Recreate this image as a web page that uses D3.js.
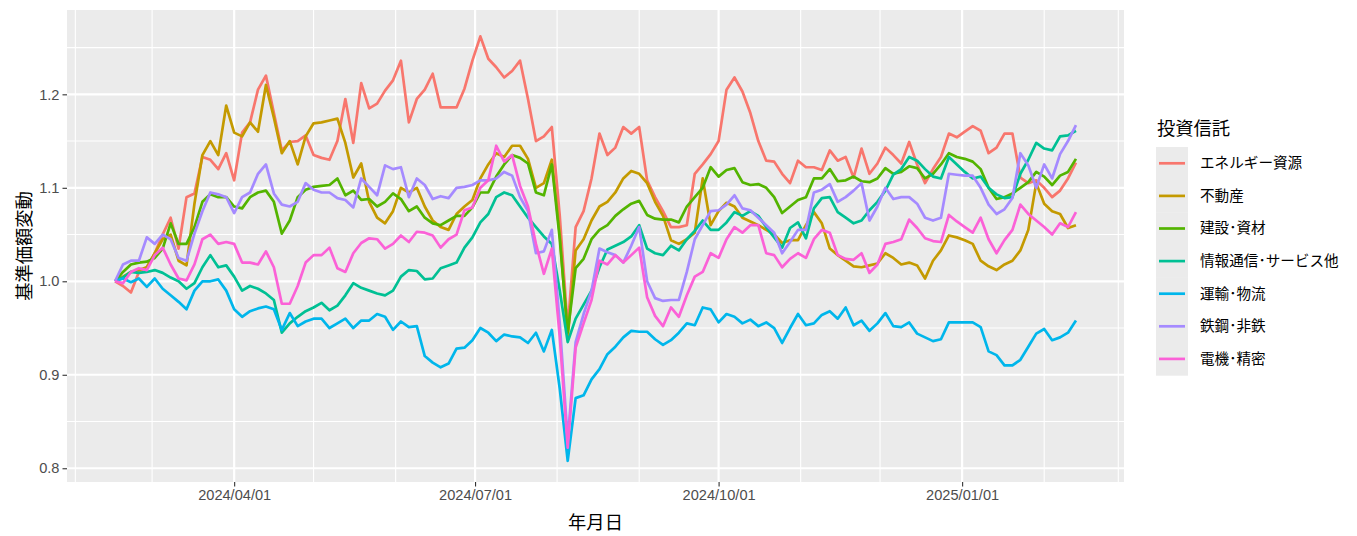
<!DOCTYPE html>
<html><head><meta charset="utf-8">
<script src="https://cdn.jsdelivr.net/npm/d3@7"></script>
<style>body{margin:0;background:#fff}svg{display:block}</style>
</head><body>
<svg id="chart" width="1357" height="536"></svg>
<script>
// ---------- data ----------
const dates = ["2024-02-16","2024-02-19","2024-02-22","2024-02-25","2024-02-28","2024-03-02","2024-03-05","2024-03-08","2024-03-11","2024-03-14",
"2024-03-17","2024-03-20","2024-03-23","2024-03-26","2024-03-29","2024-04-01","2024-04-04","2024-04-07","2024-04-10","2024-04-13",
"2024-04-16","2024-04-19","2024-04-22","2024-04-25","2024-04-28","2024-05-01","2024-05-04","2024-05-07","2024-05-10","2024-05-13",
"2024-05-16","2024-05-19","2024-05-22","2024-05-25","2024-05-28","2024-05-31","2024-06-03","2024-06-06","2024-06-09","2024-06-12",
"2024-06-15","2024-06-18","2024-06-21","2024-06-24","2024-06-27","2024-06-30","2024-07-03","2024-07-06","2024-07-09","2024-07-12",
"2024-07-15","2024-07-18","2024-07-21","2024-07-24","2024-07-27","2024-07-30","2024-08-02","2024-08-05","2024-08-08","2024-08-11",
"2024-08-14","2024-08-17","2024-08-20","2024-08-23","2024-08-26","2024-08-29","2024-09-01","2024-09-04","2024-09-07","2024-09-10",
"2024-09-13","2024-09-16","2024-09-19","2024-09-22","2024-09-25","2024-09-28","2024-10-01","2024-10-04","2024-10-07","2024-10-10",
"2024-10-13","2024-10-16","2024-10-19","2024-10-22","2024-10-25","2024-10-28","2024-10-31","2024-11-03","2024-11-06","2024-11-09",
"2024-11-12","2024-11-15","2024-11-18","2024-11-21","2024-11-24","2024-11-27","2024-11-30","2024-12-03","2024-12-06","2024-12-09",
"2024-12-12","2024-12-15","2024-12-18","2024-12-21","2024-12-24","2024-12-27","2024-12-30","2025-01-02","2025-01-05","2025-01-08",
"2025-01-11","2025-01-14","2025-01-17","2025-01-20","2025-01-23","2025-01-26","2025-01-29","2025-02-01","2025-02-04","2025-02-07",
"2025-02-10","2025-02-13"];

const seriesNames = ["エネルギー資源","不動産","建設･資材","情報通信･サービス他","運輸･物流","鉄鋼･非鉄","電機･精密"];
const seriesColors = ["#F8766D","#C49A00","#53B400","#00C094","#00B6EB","#A58AFF","#FB61D7"];

const energy = [1.000,0.995,0.988,1.010,1.015,1.030,1.050,1.068,1.035,1.090,
1.094,1.133,1.130,1.120,1.137,1.108,1.159,1.170,1.205,1.220,
1.180,1.140,1.149,1.150,1.156,1.135,1.132,1.130,1.150,1.195,
1.148,1.212,1.185,1.190,1.204,1.215,1.236,1.170,1.195,1.205,
1.222,1.186,1.186,1.186,1.206,1.236,1.262,1.238,1.229,1.218,
1.225,1.236,1.195,1.150,1.155,1.165,1.070,0.950,1.058,1.075,
1.110,1.158,1.135,1.143,1.165,1.158,1.165,1.108,1.090,1.075,
1.058,1.058,1.060,1.115,1.125,1.136,1.150,1.205,1.218,1.203,
1.180,1.150,1.129,1.128,1.115,1.105,1.129,1.122,1.122,1.119,
1.140,1.129,1.133,1.111,1.142,1.115,1.126,1.143,1.135,1.126,
1.149,1.125,1.105,1.120,1.133,1.158,1.154,1.160,1.166,1.161,
1.137,1.143,1.158,1.158,1.111,1.105,1.108,1.100,1.090,1.097,
1.110,1.127];

const realEstate = [1.000,1.005,1.010,1.012,1.015,1.030,1.045,1.050,1.022,1.017,
1.083,1.135,1.150,1.135,1.188,1.159,1.155,1.170,1.160,1.210,
1.175,1.137,1.150,1.125,1.155,1.169,1.170,1.172,1.174,1.148,
1.111,1.126,1.085,1.068,1.062,1.075,1.100,1.095,1.100,1.080,
1.065,1.058,1.055,1.072,1.080,1.087,1.110,1.125,1.137,1.133,
1.145,1.145,1.131,1.100,1.105,1.130,1.050,0.940,1.033,1.045,
1.065,1.080,1.085,1.095,1.110,1.118,1.115,1.105,1.085,1.070,
1.044,1.040,1.045,1.052,1.110,1.060,1.075,1.084,1.080,1.068,
1.064,1.060,1.055,1.050,1.041,1.044,1.044,1.060,1.074,1.062,
1.035,1.028,1.022,1.016,1.015,1.017,1.019,1.030,1.025,1.018,
1.020,1.017,1.003,1.022,1.033,1.049,1.047,1.044,1.040,1.022,
1.016,1.012,1.018,1.022,1.033,1.055,1.105,1.083,1.075,1.072,
1.057,1.060];

const construction = [1.000,1.010,1.018,1.020,1.021,1.025,1.035,1.062,1.040,1.040,
1.058,1.085,1.093,1.090,1.090,1.080,1.078,1.090,1.095,1.097,
1.085,1.051,1.065,1.090,1.098,1.101,1.102,1.103,1.110,1.092,
1.097,1.087,1.088,1.080,1.085,1.094,1.088,1.075,1.080,1.068,
1.062,1.060,1.065,1.070,1.070,1.079,1.095,1.095,1.112,1.125,
1.135,1.132,1.126,1.095,1.092,1.125,1.045,0.945,1.014,1.024,
1.045,1.055,1.060,1.070,1.077,1.083,1.086,1.071,1.067,1.066,
1.066,1.063,1.080,1.090,1.100,1.122,1.112,1.119,1.121,1.106,
1.103,1.104,1.100,1.090,1.073,1.080,1.087,1.090,1.110,1.110,
1.120,1.107,1.108,1.112,1.107,1.106,1.110,1.121,1.115,1.117,
1.123,1.121,1.110,1.115,1.125,1.137,1.133,1.131,1.128,1.120,
1.100,1.088,1.090,1.094,1.100,1.106,1.117,1.112,1.103,1.113,
1.117,1.131];

const infoComm = [1.000,1.004,1.010,1.009,1.010,1.012,1.009,1.004,1.000,0.992,
0.998,1.015,1.028,1.015,1.017,1.005,0.990,0.995,0.992,0.987,
0.980,0.945,0.955,0.962,0.968,0.972,0.977,0.969,0.974,0.985,
0.998,0.993,0.990,0.987,0.985,0.990,1.005,1.012,1.011,1.002,
1.003,1.014,1.017,1.020,1.036,1.047,1.063,1.072,1.090,1.095,
1.092,1.080,1.068,1.058,1.048,1.040,0.990,0.935,0.960,0.975,
0.990,1.015,1.034,1.038,1.042,1.048,1.060,1.035,1.030,1.028,
1.038,1.033,1.045,1.054,1.065,1.055,1.055,1.063,1.074,1.070,
1.075,1.070,1.058,1.047,1.036,1.057,1.063,1.046,1.078,1.089,
1.090,1.074,1.068,1.062,1.065,1.076,1.085,1.097,1.114,1.120,
1.133,1.129,1.120,1.112,1.110,1.133,1.125,1.117,1.110,1.112,
1.100,1.093,1.089,1.090,1.115,1.130,1.148,1.142,1.140,1.155,
1.156,1.161];

const transport = [1.000,1.003,0.999,1.003,0.994,1.003,0.992,0.985,0.978,0.970,
0.990,1.000,1.000,1.002,0.990,0.970,0.962,0.968,0.971,0.973,
0.970,0.948,0.966,0.952,0.957,0.960,0.960,0.950,0.955,0.960,
0.950,0.958,0.958,0.965,0.962,0.948,0.957,0.951,0.952,0.920,
0.913,0.908,0.912,0.928,0.929,0.937,0.950,0.945,0.936,0.943,
0.941,0.940,0.934,0.945,0.925,0.948,0.885,0.808,0.875,0.878,
0.895,0.906,0.922,0.930,0.940,0.947,0.946,0.946,0.938,0.932,
0.937,0.945,0.955,0.953,0.972,0.970,0.956,0.965,0.962,0.955,
0.959,0.952,0.956,0.950,0.934,0.950,0.965,0.953,0.955,0.964,
0.968,0.960,0.972,0.953,0.958,0.947,0.955,0.966,0.952,0.951,
0.956,0.944,0.940,0.936,0.938,0.956,0.956,0.956,0.956,0.951,
0.925,0.921,0.910,0.910,0.916,0.930,0.944,0.949,0.937,0.940,
0.945,0.958];

const steel = [1.000,1.018,1.022,1.022,1.047,1.040,1.050,1.045,1.025,1.022,
1.051,1.075,1.095,1.093,1.090,1.073,1.090,1.095,1.115,1.125,
1.094,1.082,1.080,1.085,1.105,1.098,1.095,1.095,1.089,1.087,
1.079,1.110,1.101,1.092,1.124,1.120,1.122,1.090,1.110,1.103,
1.088,1.091,1.089,1.100,1.101,1.103,1.108,1.108,1.110,1.117,
1.113,1.090,1.075,1.030,1.032,1.055,0.955,0.830,0.935,0.965,
0.990,1.035,1.031,1.028,1.020,1.038,1.058,1.000,0.982,0.979,
0.980,0.980,1.010,1.045,1.060,1.075,1.076,1.082,1.092,1.078,
1.076,1.068,1.060,1.052,1.030,1.042,1.055,1.055,1.095,1.098,
1.104,1.085,1.090,1.097,1.105,1.065,1.080,1.100,1.088,1.090,
1.090,1.083,1.068,1.065,1.068,1.115,1.114,1.113,1.113,1.100,
1.082,1.072,1.077,1.089,1.137,1.124,1.100,1.125,1.110,1.136,
1.150,1.167];

const electric = [1.000,0.998,1.010,1.014,1.012,1.028,1.036,1.018,1.003,1.001,
1.018,1.045,1.050,1.040,1.042,1.040,1.020,1.020,1.018,1.032,
1.015,0.976,0.976,0.995,1.020,1.028,1.028,1.036,1.014,1.010,
1.030,1.041,1.046,1.045,1.035,1.040,1.049,1.042,1.053,1.052,
1.049,1.036,1.045,1.050,1.076,1.079,1.100,1.108,1.145,1.128,
1.135,1.102,1.080,1.040,1.008,1.035,0.940,0.822,0.929,0.955,
0.980,1.022,1.018,1.028,1.020,1.028,1.036,0.983,0.963,0.952,
0.972,0.962,0.985,1.005,1.010,1.030,1.025,1.045,1.058,1.052,
1.060,1.060,1.030,1.028,1.015,1.024,1.030,1.025,1.045,1.055,
1.052,1.028,1.024,1.023,1.030,1.009,1.018,1.040,1.042,1.045,
1.066,1.057,1.046,1.043,1.042,1.071,1.064,1.058,1.052,1.068,
1.045,1.030,1.044,1.055,1.082,1.072,1.065,1.058,1.050,1.062,
1.058,1.074];

const seriesValues = [energy, realEstate, construction, infoComm, transport, steel, electric];

const yTicks = [0.8, 0.9, 1.0, 1.1, 1.2];
const yTickLabels = ["0.8", "0.9", "1.0", "1.1", "1.2"];
const yMinorTicks = [0.85, 0.95, 1.05, 1.15, 1.25];
const xTicks = ["2024-04-01", "2024-07-01", "2024-10-01", "2025-01-01"];
const xTickLabels = ["2024/04/01", "2024/07/01", "2024/10/01", "2025/01/01"];
const xMinorTicks = ["2024-02-01","2024-03-01","2024-05-01","2024-06-01","2024-08-01","2024-09-01","2024-11-01","2024-12-01","2025-02-01","2025-03-01"];
const yLimits = [0.7853, 1.2902];

const xTitle = "年月日";
const yTitle = "基準価額変動";
const legendTitle = "投資信託";

// ---------- layout ----------
const P = {left: 67, right: 1124, top: 10, bottom: 482};
const FONT = "'Liberation Sans', 'Noto Sans CJK JP', sans-serif";
const parse = d3.utcParse("%Y-%m-%d");
const D = dates.map(parse);
const span = D[D.length - 1] - D[0];

const x = d3.scaleUtc()
  .domain([new Date(+D[0] - 0.05 * span), new Date(+D[D.length - 1] + 0.05 * span)])
  .range([P.left, P.right]);
const y = d3.scaleLinear().domain(yLimits).range([P.bottom, P.top]);

const svg = d3.select("#chart").style("font-family", FONT);

svg.append("rect").attr("x", P.left).attr("y", P.top)
  .attr("width", P.right - P.left).attr("height", P.bottom - P.top).attr("fill", "#EBEBEB");

const grid = svg.append("g");
// minor grid
grid.selectAll(".hmin").data(yMinorTicks).join("line")
  .attr("x1", P.left).attr("x2", P.right).attr("y1", d => y(d)).attr("y2", d => y(d))
  .attr("stroke", "#fff").attr("stroke-width", 1.1);
grid.selectAll(".vmin").data(xMinorTicks.map(parse)).join("line")
  .attr("y1", P.top).attr("y2", P.bottom).attr("x1", d => x(d)).attr("x2", d => x(d))
  .attr("stroke", "#fff").attr("stroke-width", 1.1);
// major grid
grid.selectAll(".hmaj").data(yTicks).join("line")
  .attr("x1", P.left).attr("x2", P.right).attr("y1", d => y(d)).attr("y2", d => y(d))
  .attr("stroke", "#fff").attr("stroke-width", 2.2);
grid.selectAll(".vmaj").data(xTicks.map(parse)).join("line")
  .attr("y1", P.top).attr("y2", P.bottom).attr("x1", d => x(d)).attr("x2", d => x(d))
  .attr("stroke", "#fff").attr("stroke-width", 2.2);

// lines
const line = d3.line().x((d, i) => x(D[i])).y(d => y(d)).curve(d3.curveLinear);
const clip = svg.append("clipPath").attr("id", "clip").append("rect")
  .attr("x", P.left).attr("y", P.top).attr("width", P.right - P.left).attr("height", P.bottom - P.top);
svg.append("g").attr("clip-path", "url(#clip)")
  .selectAll("path").data(seriesValues).join("path")
  .attr("d", d => line(d)).attr("fill", "none")
  .attr("stroke", (d, i) => seriesColors[i]).attr("stroke-width", 2.7)
  .attr("stroke-linejoin", "round").attr("stroke-linecap", "butt");

// axes
const xAxis = d3.axisBottom(x).tickValues(xTicks.map(parse))
  .tickFormat((d, i) => xTickLabels[i]).tickSize(4.5).tickPadding(3);
const gx = svg.append("g").attr("transform", `translate(0,${P.bottom})`).call(xAxis);
const yAxis = d3.axisLeft(y).tickValues(yTicks)
  .tickFormat((d, i) => yTickLabels[i]).tickSize(4.5).tickPadding(3);
const gy = svg.append("g").attr("transform", `translate(${P.left},0)`).call(yAxis);
[gx, gy].forEach(g => {
  g.select(".domain").remove();
  g.selectAll(".tick line").attr("stroke", "#333333").attr("stroke-width", 1.1);
  g.selectAll(".tick text").attr("fill", "#4D4D4D").style("font-size", "14.6px").style("font-family", FONT);
});

// axis titles
svg.append("text").attr("x", (P.left + P.right) / 2).attr("y", 529)
  .attr("text-anchor", "middle").style("font-size", "18.3px").attr("fill", "#000").text(xTitle);
svg.append("text").attr("transform", `translate(31,${(P.top + P.bottom) / 2}) rotate(-90)`)
  .attr("text-anchor", "middle").style("font-size", "18.3px").attr("fill", "#000").text(yTitle);

// legend
const L = {x: 1156, y: 147, w: 32, h: 32.6};
svg.append("text").attr("x", 1157).attr("y", 135).style("font-size", "18.3px").attr("fill", "#000").text(legendTitle);
const lg = svg.append("g");
const items = lg.selectAll("g").data(seriesNames).join("g")
  .attr("transform", (d, i) => `translate(${L.x},${L.y + i * L.h})`);
items.append("rect").attr("width", L.w).attr("height", L.h + 0.5).attr("fill", "#EBEBEB");
items.append("line").attr("x1", 3).attr("x2", L.w - 3).attr("y1", L.h / 2).attr("y2", L.h / 2)
  .attr("stroke", (d, i) => seriesColors[i]).attr("stroke-width", 2.7);
items.append("text").attr("x", 44).attr("y", L.h / 2 + 5).style("font-size", "14.6px")
  .attr("fill", "#000").text(d => d);
</script>
</body></html>
